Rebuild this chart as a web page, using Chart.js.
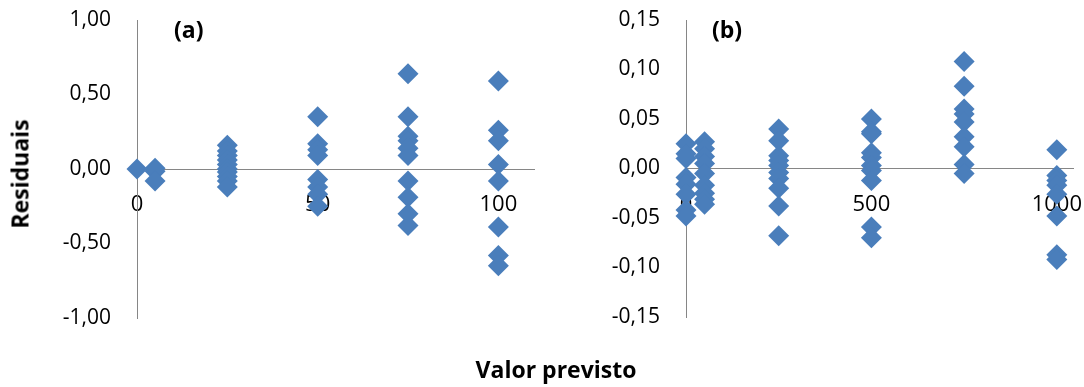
<!DOCTYPE html>
<html>
<head>
<meta charset="utf-8">
<script src="https://cdn.jsdelivr.net/npm/chart.js@4.4.1/dist/chart.umd.min.js"></script>
<style>
    body { margin: 0; background: #fff; }
    #wrap { position: relative; width: 1084px; height: 387px; overflow: hidden; font-family: 'Open Sans', sans-serif; }
    .box { position: absolute; top: 0; height: 387px; }
    .lbl { position: absolute; font-weight: bold; font-size: 23px; color: #000; white-space: nowrap; line-height: 1; }
</style>
</head>
<body>
<div id="wrap">
    <div class="box" style="left:0;width:545px"><canvas id="chartA"></canvas></div>
    <div class="box" style="left:545px;width:539px"><canvas id="chartB"></canvas></div>
    <div class="lbl" style="left:174px;top:18px">(a)</div>
    <div class="lbl" style="left:712px;top:18px">(b)</div>
    <div class="lbl" style="left:20px;top:174px;transform:translate(-50%,-50%) rotate(-90deg)">Residuais</div>
    <div class="lbl" style="left:556px;top:369px;transform:translate(-50%,-50%)">Valor previsto</div>
</div>
<script>
// Panel (a): predicted value vs residual
const xA = [0, 5, 25, 50, 75, 100];
const resA = [
    [0.00],
    [0.005, -0.015, -0.08],
    [0.16, 0.12, 0.09, 0.06, 0.03, 0.00, -0.02, -0.05, -0.08, -0.12],
    [0.35, 0.17, 0.13, 0.09, -0.07, -0.12, -0.17, -0.25],
    [0.64, 0.35, 0.22, 0.19, 0.14, 0.09, -0.08, -0.19, -0.30, -0.38],
    [0.59, 0.26, 0.19, 0.03, -0.08, -0.39, -0.58, -0.65]
];
const yTicksA = [-1, -0.5, 0, 0.5, 1];
const xTicksA = [0, 50, 100];

// Panel (b)
const xB = [0, 50, 250, 500, 750, 1000];
const resB = [
    [0.025, 0.015, 0.01, -0.009, -0.016, -0.026, -0.042, -0.048],
    [0.027, 0.02, 0.012, 0.005, -0.005, -0.017, -0.025, -0.031, -0.036],
    [0.04, 0.028, 0.013, 0.008, 0.003, -0.004, -0.01, -0.02, -0.038, -0.068],
    [0.05, 0.037, 0.035, 0.016, 0.011, 0.003, -0.002, -0.012, -0.059, -0.07],
    [0.108, 0.083, 0.06, 0.055, 0.047, 0.032, 0.022, 0.004, -0.005],
    [0.019, -0.007, -0.012, -0.017, -0.026, -0.048, -0.087, -0.092]
];
const yTicksB = [-0.15, -0.1, -0.05, 0, 0.05, 0.1, 0.15];
const xTicksB = [0, 500, 1000];

const blue = '#4A7EBB';
const axisGray = '#868686';

function toPoints(xs, groups) {
    const pts = [];
    xs.forEach((x, i) => groups[i].forEach(y => pts.push({ x: x, y: y })));
    return pts;
}

function makeChart(id, xs, groups, xMax, xTicks, yTicks, yWidth, pad) {
    const yMin = yTicks[0], yMax = yTicks[yTicks.length - 1];
    return new Chart(document.getElementById(id), {
        type: 'scatter',
        data: {
            datasets: [{
                data: toPoints(xs, groups),
                pointStyle: 'rectRot',
                pointRadius: 10.5,
                pointHoverRadius: 10.5,
                backgroundColor: blue,
                borderColor: blue,
                borderWidth: 0,
                clip: false
            }]
        },
        options: {
            responsive: true,
            maintainAspectRatio: false,
            animation: false,
            layout: { padding: pad },
            plugins: { legend: { display: false }, tooltip: { enabled: false } },
            scales: {
                x: {
                    type: 'linear',
                    position: { y: 0 },
                    min: 0,
                    max: xMax,
                    afterBuildTicks: s => { s.ticks = xTicks.map(v => ({ value: v })); },
                    afterFit: s => { s.paddingLeft = 0; s.paddingRight = 0; },
                    grid: { display: false, drawTicks: false },
                    border: { display: true, color: axisGray, width: 1 },
                    ticks: {
                        color: '#000',
                        padding: 23,
                        font: { family: 'Open Sans', size: 22 },
                        callback: v => String(v)
                    }
                },
                y: {
                    type: 'linear',
                    min: yMin,
                    max: yMax,
                    afterBuildTicks: s => { s.ticks = yTicks.map(v => ({ value: v })); },
                    afterFit: s => { s.width = yWidth; s.paddingTop = 0; s.paddingBottom = 0; },
                    grid: { display: false, drawTicks: false },
                    border: { display: true, color: axisGray, width: 1 },
                    ticks: {
                        color: '#000',
                        padding: 26,
                        font: { family: 'Open Sans', size: 21 },
                        callback: v => v.toFixed(2).replace('.', ',')
                    }
                }
            }
        }
    });
}

makeChart('chartA', xA, resA, 110, xTicksA, yTicksA, 137, { left: 0, top: 20, right: 8, bottom: 69 });
makeChart('chartB', xB, resB, 1045, xTicksB, yTicksB, 141, { left: 0, top: 20, right: 0, bottom: 70 });
</script>
</body>
</html>
